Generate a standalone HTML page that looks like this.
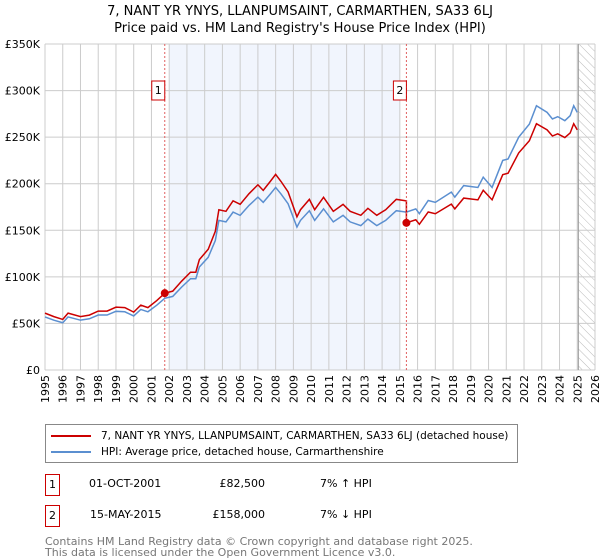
<!DOCTYPE html>
<html><head><meta charset="utf-8"><style>
body{margin:0;background:#fff;font-family:"DejaVu Sans","Liberation Sans",sans-serif;}
#wrap{position:relative;width:600px;height:560px;overflow:hidden;}
.t{position:absolute;white-space:nowrap;color:#000;}
</style></head><body><div id="wrap">
<div class="t" style="left:0;width:600px;text-align:center;top:3px;font-size:13px;line-height:17px">7, NANT YR YNYS, LLANPUMSAINT, CARMARTHEN, SA33 6LJ<br>Price paid vs. HM Land Registry's House Price Index (HPI)</div>
<svg id="chart" width="600" height="420" style="position:absolute;left:0;top:0" font-family="DejaVu Sans, Liberation Sans, sans-serif"></svg>
<div style="position:absolute;left:45px;top:424px;width:471px;height:37px;border:1px solid #888;font-size:10.5px;white-space:nowrap">
<div style="position:absolute;left:5px;top:5px;white-space:nowrap"><span style="display:inline-block;width:40px;height:2px;background:#cc0000;vertical-align:middle;margin-right:10px"></span>7, NANT YR YNYS, LLANPUMSAINT, CARMARTHEN, SA33 6LJ (detached house)</div>
<div style="position:absolute;left:5px;top:21px;white-space:nowrap"><span style="display:inline-block;width:40px;height:2px;background:#5b8fd0;vertical-align:middle;margin-right:10px"></span>HPI: Average price, detached house, Carmarthenshire</div>
</div>
<div style="position:absolute;left:45px;top:474px;font-size:11px;width:400px;height:22px">
<div style="position:absolute;left:0;top:0;width:13px;height:20px;border:1px solid #cc0000;text-align:center;line-height:20px">1</div>
<div style="position:absolute;left:44px;top:3px">01-OCT-2001</div>
<div style="position:absolute;left:160px;top:3px;width:60px;text-align:right">£82,500</div>
<div style="position:absolute;left:275px;top:3px">7% ↑ HPI</div></div>
<div style="position:absolute;left:45px;top:505px;font-size:11px;width:400px;height:22px">
<div style="position:absolute;left:0;top:0;width:13px;height:20px;border:1px solid #cc0000;text-align:center;line-height:20px">2</div>
<div style="position:absolute;left:45px;top:3px">15-MAY-2015</div>
<div style="position:absolute;left:160px;top:3px;width:60px;text-align:right">£158,000</div>
<div style="position:absolute;left:275px;top:3px">7% ↓ HPI</div></div>
<div class="t" style="left:45px;top:536px;font-size:11px;line-height:11px;color:#777">Contains HM Land Registry data © Crown copyright and database right 2025.<br>This data is licensed under the Open Government Licence v3.0.</div>
</div>
<script>
const hpiYears=[1995,1995.5,1996,1996.3,1997,1997.5,1998,1998.5,1999,1999.5,2000,2000.4,2000.8,2001.3,2001.75,2002.2,2002.7,2003.2,2003.5,2003.7,2004.2,2004.6,2004.8,2005.2,2005.6,2006,2006.5,2007,2007.3,2007.7,2008,2008.3,2008.7,2009.2,2009.4,2009.9,2010.2,2010.7,2011.25,2011.8,2012.2,2012.8,2013.2,2013.7,2014.2,2014.8,2015.37,2015.9,2016.1,2016.6,2017,2017.9,2018.1,2018.6,2019.4,2019.7,2020.2,2020.8,2021.1,2021.7,2022.3,2022.7,2023.3,2023.6,2023.9,2024.3,2024.6,2024.8,2025.0];
const hpiValues=[57,53.5,50.7,57,53.5,55,59,59,63,62.5,58,65,62.5,69.6,77,79,89,98,98,110.6,121,139,160.6,159,169.5,166,176.7,185.6,180,189,196,189,178.5,153.5,160.6,171,160.6,173,159,166,159,155,162,155,160.6,171,169.5,173,167.8,182,180,191,185.6,198,196,207,196,225,226.6,250,264,283.7,276.6,269.5,272,267.7,273,283.7,276.6];
const saleYears=[2001.75,2015.37];
const salePrices=[82.5,158];
const yTicks=[0,50,100,150,200,250,300,350];
const yTickLabels=["£0","£50K","£100K","£150K","£200K","£250K","£300K","£350K"];
const xTicks=[];for(let y=1995;y<=2026;y++)xTicks.push(y);

const svg=document.getElementById('chart');const NS='http://www.w3.org/2000/svg';
const X0=45,X1=595,Y0=370,Y1=44;
const sx=v=>X0+(v-1995)/(2026-1995)*(X1-X0);
const sy=v=>Y0-v/350*(Y0-Y1);
function mk(tag,a,name){const e=document.createElementNS(NS,tag);for(const k in a)e.setAttribute(k,a[k]);


svg.appendChild(e);return e;}
mk('rect',{x:sx(2002),y:Y1,width:sx(2015)-sx(2002),height:Y0-Y1,fill:'#eef3fc',opacity:0.8},'shaded-period');
const defs=mk('defs',{},'defs');
defs.innerHTML='<pattern id="h" width="6" height="6" patternUnits="userSpaceOnUse" patternTransform="rotate(-45)"><line x1="0" y1="0" x2="0" y2="6" stroke="#bbb" stroke-width="1"/></pattern>';
mk('rect',{x:sx(2025.06),y:Y1,width:X1-sx(2025.06),height:Y0-Y1,fill:'url(#h)'},'future-hatch');
xTicks.forEach(y=>{mk('line',{x1:sx(y),x2:sx(y),y1:Y1,y2:Y0,stroke:'#ccc','stroke-width':1},'x-gridline');
const t=mk('text',{x:0,y:0,'font-size':11,'text-anchor':'end',transform:`translate(${sx(y)+4},${Y0+5}) rotate(-90)`},'x-tick-label');t.textContent=y;});
yTicks.forEach((v,i)=>{mk('line',{x1:X0,x2:X1,y1:sy(v),y2:sy(v),stroke:'#ccc','stroke-width':1},'y-gridline');
const t=mk('text',{x:X0-5,y:sy(v)+4,'font-size':11,'text-anchor':'end'},'y-tick-label');t.textContent=yTickLabels[i];});
mk('line',{x1:sx(2025.06),x2:sx(2025.06),y1:Y1,y2:Y0,stroke:'#999','stroke-width':1},'data-end-line');
function hpiAt(t){for(let i=0;i<hpiYears.length-1;i++){if(t<=hpiYears[i+1]){const f=(t-hpiYears[i])/(hpiYears[i+1]-hpiYears[i]);return hpiValues[i]+f*(hpiValues[i+1]-hpiValues[i]);}}return hpiValues[hpiValues.length-1];}
mk('polyline',{points:hpiYears.map((y,i)=>sx(y)+','+sy(hpiValues[i])).join(' '),fill:'none',stroke:'#5b8fd0','stroke-width':1.5},'hpi-line');
const redPts=[];
hpiYears.forEach((y,i)=>{let k=0;if(y>=saleYears[1])k=1;const f=salePrices[k]/hpiAt(saleYears[k]);
if(k===1&&i>0&&hpiYears[i-1]<saleYears[1]){const f0=salePrices[0]/hpiAt(saleYears[0]);redPts.push([saleYears[1],hpiAt(saleYears[1])*f0]);redPts.push([saleYears[1],salePrices[1]]);}
redPts.push([y,hpiValues[i]*f]);});
mk('polyline',{points:redPts.map(p=>sx(p[0])+','+sy(p[1])).join(' '),fill:'none',stroke:'#cc0000','stroke-width':1.5},'property-line');
saleYears.forEach((y,i)=>{mk('line',{x1:sx(y),x2:sx(y),y1:Y1,y2:Y0,stroke:'#e06060','stroke-width':1,'stroke-dasharray':'2,2'},'sale-marker-line');
mk('circle',{cx:sx(y),cy:sy(salePrices[i]),r:4,fill:'#cc0000'},'sale-point');
mk('rect',{x:sx(y)-13,y:81,width:13,height:19,fill:'#fff',stroke:'#cc0000'},'sale-label-box');
const t=mk('text',{x:sx(y)-6.5,y:94,'font-size':11,'text-anchor':'middle'},'sale-label');t.textContent=i+1;});
</script></body></html>
